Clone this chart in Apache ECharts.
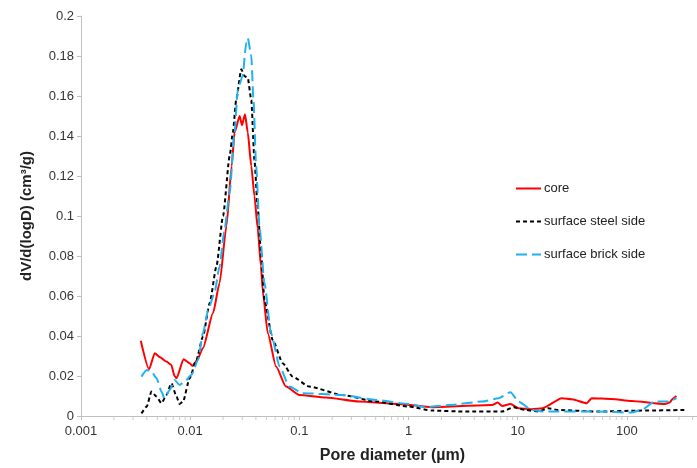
<!DOCTYPE html>
<html>
<head>
<meta charset="utf-8">
<script src="https://cdn.jsdelivr.net/npm/echarts@6/dist/echarts.min.js"></script>
<style>
  html, body { margin: 0; padding: 0; background: #fff; }
  #chart { width: 697px; height: 468px; }
</style>
</head>
<body>
<div id="chart"></div>
<script>
// pore diameter (um) and dV/d(logD) (cm3/g)
var coreX = [0.00353, 0.0042, 0.00474, 0.0053, 0.00606, 0.0067, 0.0072, 0.0075, 0.0087, 0.0099, 0.0105, 0.0115, 0.0131, 0.0162, 0.0186, 0.0215, 0.024, 0.0255, 0.0284, 0.0298, 0.0318, 0.0337, 0.0363, 0.0388, 0.0415, 0.0445, 0.0463, 0.0514, 0.0612, 0.0755, 0.1, 0.175, 0.353, 0.818, 1.65, 5.83, 6.56, 7.2, 8.6, 10.2, 13.5, 16.9, 25.4, 31.4, 43, 47.6, 72.6, 110, 223, 246, 266, 285];
var coreY = [0.0376, 0.0234, 0.0314, 0.0294, 0.0272, 0.0256, 0.020, 0.0189, 0.0284, 0.0264, 0.025, 0.0277, 0.034, 0.0515, 0.0665, 0.095, 0.125, 0.1417, 0.150, 0.1454, 0.1509, 0.1417, 0.125, 0.11, 0.094, 0.075, 0.062, 0.0414, 0.0247, 0.0147, 0.0105, 0.0092, 0.0072, 0.006, 0.0044, 0.0055, 0.0067, 0.005, 0.006, 0.0039, 0.0034, 0.0039, 0.0089, 0.0084, 0.0064, 0.0089, 0.0085, 0.0075, 0.006, 0.0067, 0.0089, 0.010];

var steelX = [0.00358, 0.004, 0.00442, 0.00492, 0.00546, 0.00606, 0.00673, 0.0075, 0.008, 0.0086, 0.0099, 0.0114, 0.0131, 0.0151, 0.0174, 0.02, 0.023, 0.0246, 0.0264, 0.0294, 0.0314, 0.0337, 0.0363, 0.0388, 0.0415, 0.0445, 0.0479, 0.057, 0.0705, 0.0869, 0.123, 0.248, 0.503, 1.01, 1.65, 3.33, 7.2, 9.2, 11.8, 15.5, 19, 23.5, 54.6, 136, 340];
var steelY = [0.0013, 0.0047, 0.0122, 0.0097, 0.0064, 0.0105, 0.0164, 0.0097, 0.006, 0.0072, 0.0189, 0.028, 0.0398, 0.0565, 0.0748, 0.10, 0.13, 0.1417, 0.158, 0.1734, 0.170, 0.169, 0.158, 0.128, 0.105, 0.082, 0.058, 0.038, 0.0264, 0.0197, 0.0147, 0.0105, 0.0072, 0.0047, 0.0027, 0.0022, 0.0022, 0.0044, 0.003, 0.0022, 0.0039, 0.003, 0.0022, 0.0027, 0.003];

var brickX = [0.00358, 0.004, 0.00442, 0.00492, 0.00546, 0.0058, 0.0065, 0.0072, 0.008, 0.0089, 0.0103, 0.0118, 0.0131, 0.0146, 0.0167, 0.0186, 0.0205, 0.023, 0.0255, 0.0273, 0.0302, 0.0327, 0.0337, 0.0363, 0.038, 0.0402, 0.0431, 0.0479, 0.055, 0.066, 0.081, 0.107, 0.248, 0.503, 1.01, 1.43, 2.35, 4.7, 6.7, 8.6, 10.2, 13.5, 16.9, 54.6, 110, 136, 180, 240, 285];
var brickY = [0.0197, 0.023, 0.0222, 0.0189, 0.0122, 0.0089, 0.013, 0.018, 0.0155, 0.0172, 0.0206, 0.028, 0.0414, 0.053, 0.0615, 0.0748, 0.092, 0.1116, 0.1417, 0.163, 0.170, 0.1868, 0.189, 0.180, 0.158, 0.125, 0.095, 0.0665, 0.0414, 0.0247, 0.0147, 0.0114, 0.0105, 0.008, 0.006, 0.0044, 0.0055, 0.0072, 0.0089, 0.0119, 0.0072, 0.003, 0.0022, 0.0022, 0.0017, 0.003, 0.0072, 0.0072, 0.0089];

var seriesNames = ['core', 'surface steel side', 'surface brick side'];

// excel style minor ticks of the log axis (2..9 of every decade)
var minorTicks = [];
for (var p = -3; p < 3; p++) {
	for (var k = 2; k <= 9; k++) {
		minorTicks.push([k * Math.pow(10, p), 0]);
	}
}

function pairs(xs, ys) {
	return xs.map(function (x, i) { return [x, ys[i]]; });
}

var font = 'Liberation Sans, Arial, sans-serif';
var myChart = echarts.init(document.getElementById('chart'), null, {renderer: 'canvas'});

var option = {
	animation: false,
	textStyle: {fontFamily: font},
	// plot runs on past the right edge of the picture (cropped at ~400 um)
	grid: {left: 81, right: -39, top: 16, bottom: 52, outerBoundsMode: 'none', containLabel: false},
	legend: {
		data: seriesNames,
		orient: 'vertical',
		left: 510,
		top: 177,
		itemWidth: 25,
		itemHeight: 10,
		itemGap: 20,
		itemStyle: {opacity: 0},
		textStyle: {fontSize: 13, color: '#222', fontFamily: font, padding: [0, 0, 0, -2]}
	},
	xAxis: {
		type: 'log',
		logBase: 10,
		min: 0.001,
		max: 1000,
		name: 'Pore diameter (µm)',
		nameLocation: 'middle',
		nameGap: 32,
		nameTextStyle: {fontSize: 16, fontWeight: 'bold', color: '#222', padding: [0, 32, 0, 0]},
		axisLine: {lineStyle: {color: '#bfbfbf'}},
		axisTick: {length: 4, lineStyle: {color: '#bfbfbf'}},
		splitLine: {show: false},
		axisLabel: {fontSize: 13, color: '#333', margin: 9,
			formatter: function (v) { return String(+v.toPrecision(3)); }}
	},
	yAxis: {
		type: 'value',
		min: 0,
		max: 0.2,
		interval: 0.02,
		name: 'dV/d(logD) (cm³/g)',
		nameLocation: 'middle',
		nameRotate: 90,
		nameGap: 47,
		nameTextStyle: {fontSize: 15, fontWeight: 'bold', color: '#222'},
		axisLine: {show: true, lineStyle: {color: '#bfbfbf'}},
		axisTick: {show: true, length: 4, lineStyle: {color: '#bfbfbf'}},
		splitLine: {show: false},
		axisLabel: {fontSize: 13, color: '#333', margin: 7,
			formatter: function (v) { return String(+v.toFixed(2)); }}
	},
	series: [
		{
			name: 'core',
			type: 'line',
			data: pairs(coreX, coreY),
			showSymbol: false,
			symbol: 'none',
			smooth: 0.2,
			smoothMonotone: 'x',
			itemStyle: {color: '#ff0000'},
			lineStyle: {color: '#ff0000', width: 2}
		},
		{
			name: 'surface steel side',
			type: 'line',
			data: pairs(steelX, steelY),
			showSymbol: false,
			symbol: 'none',
			smooth: 0.2,
			smoothMonotone: 'x',
			itemStyle: {color: '#000000'},
			lineStyle: {color: '#000000', width: 2, type: [4, 3]}
		},
		{
			name: 'surface brick side',
			type: 'line',
			data: pairs(brickX, brickY),
			showSymbol: false,
			symbol: 'none',
			smooth: 0.2,
			smoothMonotone: 'x',
			itemStyle: {color: '#1fb2ee'},
			lineStyle: {color: '#1fb2ee', width: 2, type: [11, 5]}
		},
		{
			name: 'minor ticks',
			type: 'scatter',
			data: minorTicks,
			symbol: 'rect',
			symbolSize: [1, 4],
			symbolOffset: [0, 2],
			clip: false,
			silent: true,
			z: 1,
			itemStyle: {color: '#bfbfbf'}
		}
	]
};
myChart.setOption(option);
</script>
</body>
</html>
